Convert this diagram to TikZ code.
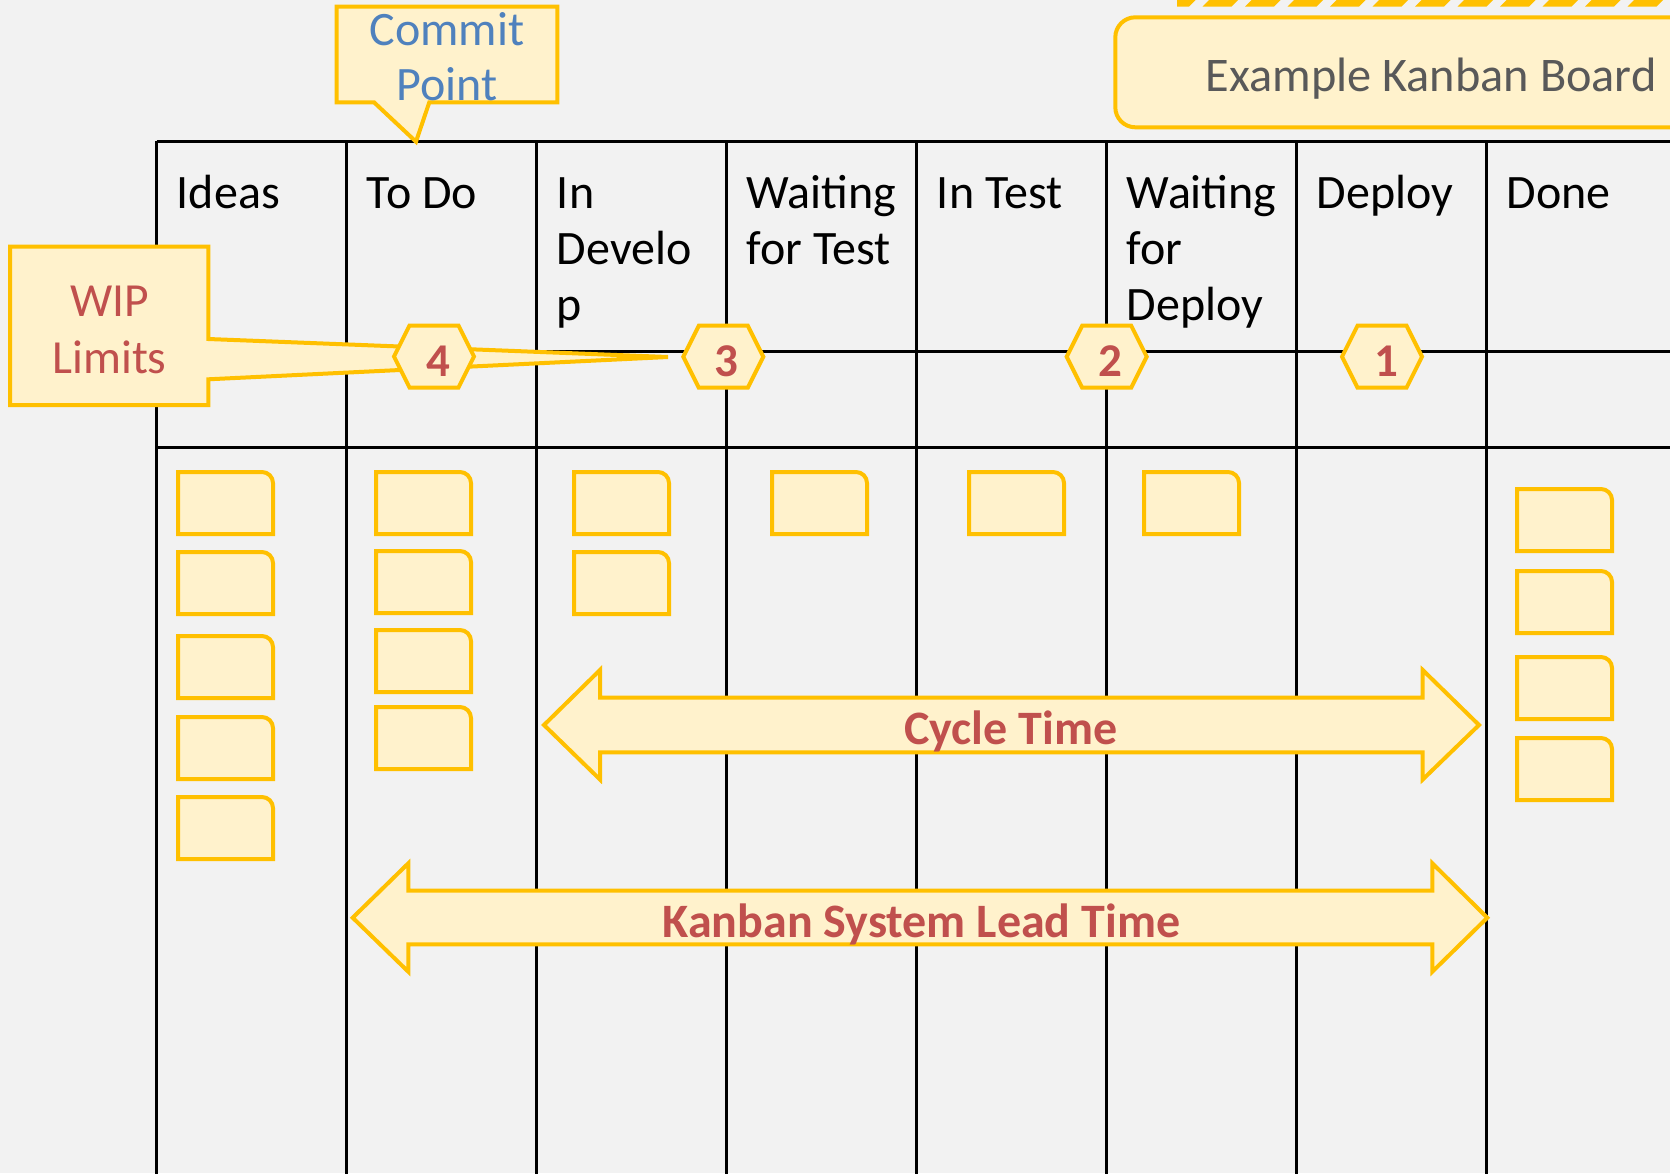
\documentclass[tikz,border=0pt]{standalone}
\usepackage{fontspec}
\setmainfont{Carlito}
\definecolor{bg}{HTML}{F2F2F2}
\definecolor{ystroke}{HTML}{FFC000}
\definecolor{yfill}{HTML}{FFF2CC}
\definecolor{wred}{HTML}{C0504D}
\definecolor{wblue}{HTML}{4F81BD}
\definecolor{wgray}{HTML}{595959}
\begin{document}
\begin{tikzpicture}[x=1pt,y=-1pt,
  gridline/.style={line width=3pt,black},
  yshape/.style={draw=ystroke,fill=yfill,line width=4pt,line join=miter},
  hdr/.style={font=\fontsize{48}{56}\selectfont,anchor=base west,inner sep=0pt},
  ctext/.style={font=\fontsize{48}{56}\selectfont,anchor=base,inner sep=0pt},
  num/.style={font=\fontsize{47}{56}\selectfont\bfseries,text=wred,anchor=base,inner sep=0pt},
  arrtext/.style={font=\fontsize{48}{56}\selectfont\bfseries,text=wred,anchor=base,inner sep=0pt}]
\clip (0,0) rectangle (1670,1173);
\useasboundingbox (0,0) rectangle (1670,1173);
\fill[bg] (0,0) rectangle (1670,1173);

% grid
\foreach \k in {0,...,7} {
  \draw[gridline] ({156.7+190*\k},141.3) -- ({156.7+190*\k},1180);
}
\foreach \yy in {141.3,351.7,447.3} {
  \draw[gridline] (156.7,\yy) -- (1680,\yy);
}

% cards
\newcommand{\kcard}[2]{%
  \draw[yshape] (#1,#2+62) -- (#1,#2) -- (#1+84,#2)
     arc[start angle=-90,end angle=0,radius=11] -- (#1+95,#2+62) -- cycle;}
\foreach \yy in {472,552,636,717,797} {\kcard{178}{\yy}}
\foreach \yy in {472,551,630,707} {\kcard{376}{\yy}}
\foreach \yy in {472,552} {\kcard{574}{\yy}}
\kcard{772}{472}
\kcard{969}{472}
\kcard{1144}{472}
\foreach \yy in {489,571,657,738} {\kcard{1517}{\yy}}

% arrows
\draw[yshape] (544,725) -- (600,670) -- (600,697.7) -- (1422.7,697.7) -- (1422.7,670)
  -- (1479,725) -- (1422.7,779.5) -- (1422.7,752.3) -- (600,752.3) -- (600,779.5) -- cycle;
\draw[yshape] (352.7,917.7) -- (408.3,863.3) -- (408.3,890.7) -- (1432.3,890.7) -- (1432.3,863.3)
  -- (1487.3,917.7) -- (1432.3,971.7) -- (1432.3,944.3) -- (408.3,944.3) -- (408.3,971.7) -- cycle;
\node[arrtext] (cycle) at (1010.7,744) {Cycle Time};
\node[arrtext] (lead) at (921.3,937) {Kanban System Lead Time};

% WIP callout
\draw[yshape] (10,246.7) -- (208.3,246.7) -- (208.3,339) -- (668,357) -- (208.3,379.3)
  -- (208.3,405) -- (10,405) -- cycle;
\node[ctext,text=wred,font=\fontsize{47.5}{56}\selectfont] (wip1) at (109.5,316) {WIP};
\node[ctext,text=wred,font=\fontsize{47.5}{56}\selectfont] (wip2) at (109.5,373.3) {Limits};

% hexagons
\newcommand{\khex}[2]{%
  \draw[yshape] (#1-40,#2) -- (#1-24.5,#2-31) -- (#1+24.5,#2-31) -- (#1+40,#2)
    -- (#1+24.5,#2+31) -- (#1-24.5,#2+31) -- cycle;}
\khex{434}{356.5}
\khex{723.3}{356.7}
\khex{1106.7}{356.7}
\khex{1382}{356.7}
\node[num] (n4) at (438.3,376) {4};
\node[num] (n3) at (726.7,376) {3};
\node[num] (n2) at (1110,376) {2};
\node[num] (n1) at (1386.7,376) {1};

% commit point callout
\draw[yshape] (336.7,6.7) -- (557.3,6.7) -- (557.3,102.3) -- (429.3,102.3) -- (416,141.7)
  -- (374,102.3) -- (336.7,102.3) -- cycle;
\node[ctext,text=wblue] (cp1) at (447,45) {Commit};
\node[ctext,text=wblue] (cp2) at (447,100) {Point};

% example kanban board
\draw[yshape,rounded corners=20pt] (1115.3,17.3) rectangle (1720,127.3);
\node[hdr,text=wgray,font=\fontsize{48.3}{56}\selectfont] (title) at (1205.5,91.7) {Example Kanban Board};

% hatched stripe at top
\begin{scope}
\clip (1177,0) rectangle (1670,6.5);
\foreach \i in {0,...,13} {
  \fill[ystroke] ({1160+42.5*\i},6.5) -- ({1189+42.5*\i},6.5) -- ({1195.5+42.5*\i},0) -- ({1166.5+42.5*\i},0) -- cycle;
}
\end{scope}

% headers
\node[hdr] (h1) at (176.7,208.3) {Ideas};
\node[hdr] (h2) at (366.7,208.3) {To Do};
\node[hdr] (h3a) at (556.7,208.3) {In};
\node[hdr] (h3b) at (556.7,264.3) {Develo};
\node[hdr] (h3c) at (556.7,320.3) {p};
\node[hdr] (h4a) at (746.7,208.3) {Waiting};
\node[hdr] (h4b) at (746.7,264.3) {for Test};
\node[hdr] (h5) at (936.7,208.3) {In Test};
\node[hdr] (h6a) at (1126.7,208.3) {Waiting};
\node[hdr] (h6b) at (1126.7,264.3) {for};
\node[hdr] (h6c) at (1126.7,320.3) {Deploy};
\node[hdr] (h7) at (1316.7,208.3) {Deploy};
\node[hdr] (h8) at (1506.7,208.3) {Done};
\end{tikzpicture}
\end{document}
